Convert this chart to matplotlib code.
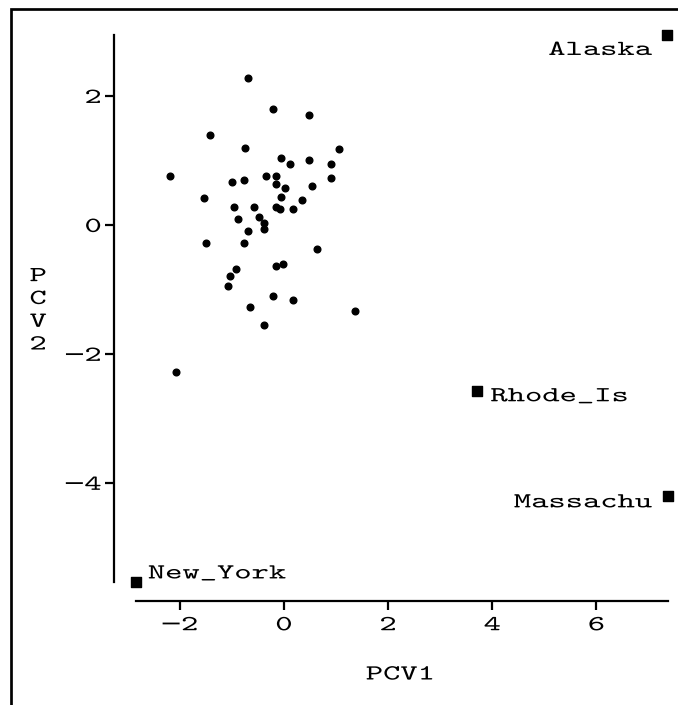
import matplotlib
matplotlib.use("Agg")
import matplotlib.pyplot as plt
from matplotlib.lines import Line2D
from matplotlib.markers import MarkerStyle
from matplotlib.patheffects import AbstractPathEffect
from matplotlib.transforms import Affine2D

# Principal-component scores of the states (PCV1, PCV2)
labeled_states = ["Alaska", "Rhode_Is", "Massachu", "New_York"]
labeled_pcv1 = [7.35, 3.71, 7.37, -2.85]
labeled_pcv2 = [2.95, -2.58, -4.21, -5.53]

other_pcv1 = [-0.69, -0.20, 0.49, -1.42, -0.74, 1.06, -0.05, 0.11, 0.49, 0.91,
              -2.18, -1.00, -0.77, -0.35, -0.16, -0.16, 0.03, 0.53, 0.91, -1.53,
              -0.05, 0.34, -0.96, -0.58, -0.16, -0.08, 0.18, -0.89, -0.47, -0.39,
              -0.39, -0.69, -1.50, -0.77, 0.64, -0.16, -0.01, -0.92, -1.04, -1.08,
              -0.20, 0.18, -0.65, 1.36, -0.39, -2.07]
other_pcv2 = [2.28, 1.80, 1.71, 1.39, 1.20, 1.17, 1.04, 0.95, 1.01, 0.95,
              0.76, 0.67, 0.70, 0.76, 0.76, 0.63, 0.57, 0.60, 0.73, 0.41,
              0.44, 0.38, 0.28, 0.28, 0.28, 0.25, 0.25, 0.09, 0.13, 0.03,
              -0.06, -0.10, -0.28, -0.28, -0.38, -0.64, -0.60, -0.69, -0.79, -0.95,
              -1.11, -1.17, -1.27, -1.33, -1.55, -2.28]

x_ticks = [-2, 0, 2, 4, 6]
y_ticks = [-4, -2, 0, 2]
x_title = "PCV1"
y_title = "P\nC\nV\n2"

FONT = ["cmtt10", "DejaVu Sans Mono"]
SIZE = 15.5
WIDEN = 1.53

plt.rcParams["font.family"] = FONT
plt.rcParams["font.size"] = SIZE


class Widen(AbstractPathEffect):
    """Draw glyphs stretched horizontally, keeping one side (or the centre) fixed."""

    def __init__(self, factor=WIDEN, anchor="left"):
        super().__init__()
        self._factor = factor
        self._anchor = anchor

    def draw_path(self, renderer, gc, tpath, affine, rgbFace=None):
        if len(tpath.vertices) == 0:
            return
        ext = tpath.get_extents()
        if self._anchor == "right":
            x0 = ext.x1
        elif self._anchor == "center":
            x0 = 0.5 * (ext.x0 + ext.x1)
        else:
            x0 = 0.0
        stretch = Affine2D().translate(-x0, 0).scale(self._factor, 1).translate(x0, 0)
        full = Affine2D(affine.get_matrix() @ stretch.get_matrix())
        renderer.draw_path(gc, tpath, full, rgbFace)


W, H = 678, 705
fig = plt.figure(figsize=(W / 100, H / 100), dpi=100)
left, right, top, bottom = 135.5, 667.7, 34.7, 581.5
ax = fig.add_axes([left / W, 1 - bottom / H, (right - left) / W, (bottom - top) / H])

all_x = labeled_pcv1 + other_pcv1
all_y = labeled_pcv2 + other_pcv2
ax.set_xlim(min(all_x), max(all_x))
ax.set_ylim(min(all_y), max(all_y))

ax.plot(other_pcv1, other_pcv2, "o", ms=4.8, color="black", mec="black", clip_on=False)
ax.plot(labeled_pcv1, labeled_pcv2, ls="none",
        marker=MarkerStyle("s", joinstyle="round"), ms=6.8,
        color="black", mec="black", mew=1.0, clip_on=False)

# label placement next to each highlighted state: (alignment, offset in points)
placement = {
    "Alaska": ("right", (-10.8, -14.6)),
    "Massachu": ("right", (-11.5, -7.9)),
    "Rhode_Is": ("left", (9.6, -7.2)),
    "New_York": ("left", (8.9, 2.2)),
}
for name, x, y in zip(labeled_states, labeled_pcv1, labeled_pcv2):
    ha, off = placement[name]
    t = ax.annotate(name, (x, y), xytext=off, textcoords="offset points",
                    ha=ha, va="baseline", annotation_clip=False)
    t.set_path_effects([Widen(anchor=ha)])

for side in ("top", "right"):
    ax.spines[side].set_visible(False)
ax.spines["left"].set_position(("outward", 15.5))
ax.spines["bottom"].set_position(("outward", 13.8))
ax.spines["left"].set_bounds(min(all_y), max(all_y))
ax.spines["bottom"].set_bounds(min(all_x), max(all_x))
for side in ("left", "bottom"):
    ax.spines[side].set_linewidth(1.6)

ax.set_xticks(x_ticks)
ax.set_yticks(y_ticks)
ax.tick_params(direction="out", length=6.2, width=1.6, color="black")
ax.tick_params(axis="x", pad=5)
ax.tick_params(axis="y", pad=3)
for lbl in ax.get_xticklabels():
    lbl.set_path_effects([Widen(anchor="center")])
for lbl in ax.get_yticklabels():
    lbl.set_path_effects([Widen(anchor="right")])

xl = ax.set_xlabel(x_title)
ax.xaxis.set_label_coords(0.497, -0.171)
xl.set_va("center")
xl.set_path_effects([Widen(anchor="center")])

yl = ax.set_ylabel(y_title, rotation=0, ha="center", va="center",
                   multialignment="center", linespacing=1.27)
ax.yaxis.set_label_coords(-0.183, 0.495)
yl.set_path_effects([Widen(anchor="center")])

# page frame along the left and top edges
fx = 11 / W
fy = 1 - 9 / H
fig.add_artist(Line2D([fx, fx, 1.0], [0.0, fy, fy], transform=fig.transFigure,
                      color="black", lw=1.95, solid_joinstyle="miter"))

fig.savefig("out.png", dpi=100)
